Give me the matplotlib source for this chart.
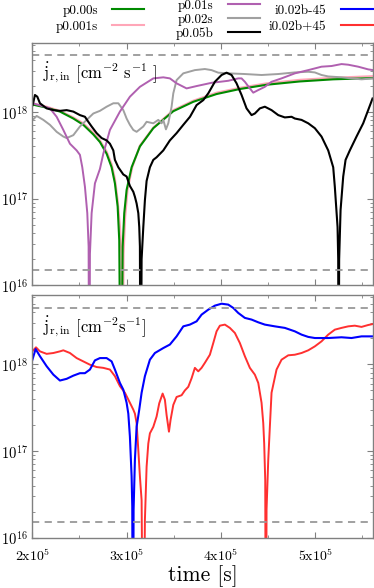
import matplotlib
matplotlib.use("Agg")
import numpy as np
import matplotlib.pyplot as plt
from matplotlib.lines import Line2D
from matplotlib.ticker import FixedLocator, LogLocator, NullFormatter

plt.rcParams['font.family'] = ['cmr10', 'DejaVu Serif']
plt.rcParams['mathtext.fontset'] = 'cm'
plt.rcParams['axes.formatter.use_mathtext'] = True
plt.rcParams['axes.unicode_minus'] = False

# time in units of 1e5 s, flux in units of 1e18 cm^-2 s^-1 (1e-4 = line drops off the axis)
t_green = [2.000, 2.152, 2.293, 2.435, 2.541, 2.647, 2.717, 2.788, 2.841, 2.876, 2.905, 2.922, 2.940,
           2.958, 2.975, 3.000, 3.053, 3.141, 3.283, 3.495, 3.707, 3.954, 4.201, 4.484, 4.837, 5.191, 5.608]
j_green = [1.22, 1.12, 1.01, 0.84, 0.71, 0.55, 0.45, 0.33, 0.23, 0.15, 0.081, 0.033, 1e-4,
           0.028, 0.068, 0.126, 0.23, 0.40, 0.65, 1.02, 1.31, 1.61, 1.84, 2.06, 2.25, 2.38, 2.46]

t_pink = [2.000, 2.152, 2.293, 2.435, 2.541, 2.647, 2.717, 2.788, 2.841, 2.876, 2.905, 2.930, 2.945, 2.955,
          2.968, 2.985, 3.010, 3.060, 3.141, 3.283, 3.495, 3.707, 3.954, 4.201, 4.484, 4.837, 5.191, 5.608]
j_pink = [1.26, 1.15, 1.03, 0.865, 0.74, 0.58, 0.47, 0.35, 0.25, 0.17, 0.096, 0.047, 0.023, 1e-4,
          0.023, 0.062, 0.126, 0.23, 0.41, 0.66, 1.05, 1.35, 1.67, 1.90, 2.14, 2.35, 2.48, 2.59]

t_purple = [2.004, 2.187, 2.258, 2.329, 2.399, 2.470, 2.505, 2.530, 2.558, 2.583, 2.597, 2.604, 2.611,
            2.629, 2.664, 2.717, 2.753, 2.823, 2.929, 3.035, 3.141, 3.283, 3.389, 3.459, 3.530, 3.636,
            3.742, 3.901, 4.078, 4.184, 4.219, 4.254, 4.307, 4.343, 4.396, 4.466, 4.537, 4.643, 4.784,
            4.926, 5.067, 5.173, 5.279, 5.350, 5.456, 5.562, 5.615]
j_purple = [1.26, 1.10, 0.88, 0.62, 0.43, 0.36, 0.32, 0.23, 0.137, 0.068, 0.028, 1e-4, 0.023,
            0.068, 0.15, 0.22, 0.33, 0.62, 1.01, 1.50, 1.95, 2.44, 2.51, 2.44, 2.14, 1.87,
            1.99, 2.17, 2.29, 2.44, 2.44, 2.23, 1.87, 1.67, 1.79, 1.95, 2.23, 2.44, 2.79,
            3.04, 3.33, 3.39, 3.57, 3.51, 3.33, 3.10, 3.04]

t_gray = [2.004, 2.046, 2.117, 2.187, 2.258, 2.329, 2.364, 2.435, 2.505, 2.576, 2.647, 2.717, 2.788,
          2.859, 2.912, 2.965, 3.000, 3.035, 3.071, 3.106, 3.177, 3.212, 3.283, 3.336, 3.371, 3.389,
          3.417, 3.442, 3.477, 3.495, 3.530, 3.601, 3.724, 3.830, 3.901, 3.972, 4.078, 4.254, 4.431,
          4.608, 4.784, 4.926, 4.996, 5.067, 5.138, 5.279, 5.385, 5.491, 5.615]
j_gray = [0.81, 0.90, 0.81, 0.71, 0.59, 0.52, 0.50, 0.54, 0.68, 0.81, 0.96, 1.03, 1.15,
          1.26, 1.26, 1.05, 0.84, 0.71, 0.62, 0.59, 0.68, 0.77, 0.74, 0.81, 0.74, 0.81,
          0.63, 0.74, 1.15, 1.64, 2.33, 2.79, 3.04, 3.13, 3.04, 2.84, 2.79, 2.74, 2.67,
          2.74, 2.86, 2.91, 2.86, 2.67, 2.57, 2.51, 2.44, 2.38, 2.44]

t_black = [2.004, 2.028, 2.053, 2.081, 2.152, 2.223, 2.293, 2.364, 2.435, 2.505, 2.558, 2.594, 2.629,
           2.682, 2.735, 2.788, 2.823, 2.859, 2.876, 2.912, 2.965, 3.000, 3.035, 3.071, 3.088, 3.106,
           3.124, 3.134, 3.141, 3.148, 3.159, 3.177, 3.194, 3.212, 3.247, 3.283, 3.318, 3.389, 3.459,
           3.530, 3.601, 3.672, 3.742, 3.813, 3.866, 3.936, 4.007, 4.060, 4.113, 4.166, 4.219, 4.272,
           4.325, 4.360, 4.413, 4.466, 4.537, 4.608, 4.678, 4.749, 4.784, 4.855, 4.926, 4.996, 5.067,
           5.138, 5.191, 5.208, 5.237, 5.244, 5.247, 5.254, 5.269, 5.297, 5.322, 5.367, 5.438, 5.509, 5.608]
j_black = [1.20, 1.57, 1.50, 1.26, 1.10, 1.05, 1.03, 1.05, 1.01, 0.92, 0.88, 0.77, 0.68,
           0.57, 0.50, 0.47, 0.43, 0.36, 0.28, 0.23, 0.19, 0.18, 0.14, 0.12, 0.105, 0.088,
           0.068, 0.047, 0.028, 1e-4, 0.020, 0.047, 0.096, 0.16, 0.23, 0.28, 0.30, 0.36, 0.47,
           0.57, 0.71, 0.88, 1.20, 1.37, 1.64, 2.23, 2.67, 2.84, 2.67, 2.14, 1.57, 1.10,
           0.92, 0.96, 1.10, 1.15, 1.05, 0.92, 0.865, 0.88, 0.84, 0.81, 0.74, 0.65, 0.52,
           0.36, 0.23, 0.137, 0.047, 0.020, 1e-4, 0.020, 0.074, 0.18, 0.28, 0.36, 0.52, 0.74, 1.43]

t_blue = [2.000, 2.035, 2.081, 2.152, 2.223, 2.293, 2.364, 2.435, 2.505, 2.558, 2.611, 2.664, 2.717,
          2.788, 2.841, 2.876, 2.929, 2.965, 3.000, 3.018, 3.035, 3.053, 3.060, 3.067, 3.074, 3.088,
          3.106, 3.134, 3.159, 3.194, 3.247, 3.300, 3.389, 3.459, 3.530, 3.601, 3.671, 3.742, 3.795,
          3.866, 3.936, 4.007, 4.078, 4.131, 4.184, 4.254, 4.325, 4.396, 4.466, 4.572, 4.678, 4.784,
          4.855, 4.926, 4.996, 5.138, 5.279, 5.385, 5.491, 5.615]
j_blue = [1.12, 1.5, 1.24, 0.95, 0.76, 0.65, 0.68, 0.74, 0.79, 0.79, 0.87, 1.11, 1.18,
          1.18, 1.08, 0.87, 0.61, 0.51, 0.36, 0.27, 0.146, 0.051, 0.023, 1e-4, 0.021, 0.079,
          0.19, 0.30, 0.47, 0.73, 1.13, 1.35, 1.54, 1.69, 2.1, 2.74, 2.87, 3.13, 3.74,
          4.27, 4.75, 5.0, 4.88, 4.47, 3.91, 3.43, 3.28, 3.05, 2.87, 2.74, 2.63, 2.4,
          2.2, 2.07, 2.01, 2.01, 2.05, 2.01, 2.1, 2.1]

t_red = [2.000, 2.039, 2.081, 2.152, 2.223, 2.293, 2.329, 2.399, 2.470, 2.541, 2.611, 2.682, 2.753,
         2.823, 2.876, 2.929, 2.982, 3.035, 3.071, 3.088, 3.106, 3.124, 3.141, 3.159, 3.177, 3.194,
         3.212, 3.230, 3.247, 3.283, 3.318, 3.346, 3.382, 3.406, 3.424, 3.449, 3.466, 3.495, 3.530,
         3.583, 3.618, 3.654, 3.689, 3.724, 3.760, 3.795, 3.830, 3.883, 3.919, 3.954, 3.989, 4.042,
         4.095, 4.148, 4.201, 4.254, 4.307, 4.360, 4.396, 4.431, 4.449, 4.459, 4.470, 4.477, 4.484,
         4.502, 4.519, 4.537, 4.590, 4.643, 4.714, 4.784, 4.855, 4.926, 4.996, 5.067, 5.138, 5.208,
         5.279, 5.350, 5.420, 5.491, 5.562, 5.615]
j_red = [1.41, 1.57, 1.41, 1.32, 1.35, 1.41, 1.45, 1.35, 1.18, 1.08, 0.99, 0.93, 0.91,
         0.87, 0.73, 0.56, 0.47, 0.36, 0.30, 0.27, 0.21, 0.103, 0.051, 0.027, 1e-4, 0.016,
         0.066, 0.122, 0.16, 0.19, 0.25, 0.355, 0.46, 0.39, 0.26, 0.167, 0.228, 0.34, 0.42,
         0.44, 0.50, 0.55, 0.69, 0.91, 0.83, 0.91, 1.04, 1.29, 1.76, 2.4, 2.79, 2.87,
         2.63, 2.3, 1.76, 1.24, 0.91, 0.76, 0.61, 0.36, 0.21, 0.122, 0.046, 1e-4, 0.021,
         0.079, 0.19, 0.47, 0.87, 1.13, 1.27, 1.29, 1.35, 1.45, 1.61, 1.84, 2.2, 2.51,
         2.63, 2.74, 2.79, 2.7, 2.84, 2.92]

ref_high = 4.5e18
ref_low = 1.5e16

xticks = [2e5, 3e5, 4e5, 5e5]
xticklabels = ['2x10$^5$', '3x10$^5$', '4x10$^5$', '5x10$^5$']
yticks = [1e16, 1e17, 1e18]
yticklabels = ['10$^{16}$', '10$^{17}$', '10$^{18}$']

top_series = [
    ('p0.00s', t_green, j_green, '#008a00', 1.5),
    ('p0.001s', t_pink, j_pink, '#ffa6b8', 1.5),
    ('p0.01s', t_purple, j_purple, '#b060b0', 1.4),
    ('p0.02s', t_gray, j_gray, '#a0a0a0', 1.4),
    ('p0.05b', t_black, j_black, '#000000', 1.5),
]
bottom_series = [
    ('i0.02b-45', t_blue, j_blue, '#0000ff', 1.5),
    ('i0.02b+45', t_red, j_red, '#ff3030', 1.4),
]

fig = plt.figure(figsize=(3.74, 5.88), dpi=100)
ax1 = fig.add_axes([0.0864, 0.5148, 0.9102, 0.4126])
ax2 = fig.add_axes([0.0864, 0.0855, 0.9102, 0.4128])

draw_order = {ax1: ['p0.001s', 'p0.00s', 'p0.02s', 'p0.01s', 'p0.05b'],
              ax2: ['i0.02b+45', 'i0.02b-45']}
handles = {}
for ax, series in [(ax1, top_series), (ax2, bottom_series)]:
    lookup = {s[0]: s for s in series}
    for name in draw_order[ax]:
        _, t, j, c, lw = lookup[name]
        ln, = ax.plot(np.array(t) * 1e5, np.array(j) * 1e18, color=c, lw=lw, solid_joinstyle='round')
        handles[name] = ln

    ax.axhline(ref_high, color='#999999', lw=1.3, ls=(0, (4, 3)))
    ax.axhline(ref_low, color='#999999', lw=1.3, ls=(0, (4, 3)))
    ax.set_yscale('log')
    ax.set_ylim(1e16, 6.3e18)
    ax.set_xlim(2e5, 5.61e5)
    ax.yaxis.set_major_locator(FixedLocator(yticks))
    ax.set_yticklabels(yticklabels, fontsize=10.5)
    ax.yaxis.set_minor_locator(LogLocator(base=10, subs=np.arange(2, 10)))
    ax.yaxis.set_minor_formatter(NullFormatter())
    ax.set_xticks(xticks)
    ax.set_xticks([2.5e5, 3.5e5, 4.5e5, 5.5e5], minor=True)
    ax.tick_params(which='both', direction='in', top=True, right=True, color='#808080')
    ax.tick_params(which='major', length=4, width=0.8)
    ax.tick_params(which='minor', length=2.5, width=0.6)
    ax.tick_params(axis='y', pad=3)
    for sp in ax.spines.values():
        sp.set_color('#808080')
        sp.set_linewidth(1.0)

ax1.set_xticklabels([])
ax2.set_xticklabels(xticklabels, fontsize=10)
ax2.tick_params(axis='x', pad=7)
ax2.set_xlabel('time [s]', fontsize=15.5, labelpad=1)

ax1.text(0.03, 0.875, r'$\dot{\mathrm{j}}_{\mathrm{r,in}}$ [cm$^{\mathrm{-2}}$ s$^{\mathrm{-1}}$ ]',
         transform=ax1.transAxes, fontsize=12, va='center', ha='left')
ax2.text(0.03, 0.87, r'$\dot{\mathrm{j}}_{\mathrm{r,in}}$ [cm$^{\mathrm{-2}}$s$^{\mathrm{-1}}$]',
         transform=ax2.transAxes, fontsize=12, va='center', ha='left')

legend_groups = [
    (['p0.00s', 'p0.001s'], 0.267, 0.968, 0.3),
    (['p0.01s', 'p0.02s', 'p0.05b'], 0.582, 0.9665, 0.12),
    (['i0.02b-45', 'i0.02b+45'], 0.858, 0.968, 0.3),
]
for names, xc, yc, spacing in legend_groups:
    hs = [Line2D([], [], color=handles[n].get_color(), lw=1.5) for n in names]
    fig.legend(hs, names, loc='center', bbox_to_anchor=(xc, yc), frameon=False,
               markerfirst=False, fontsize=9.5, handlelength=2.4, handletextpad=1.1,
               labelspacing=spacing, borderpad=0, borderaxespad=0)

fig.savefig('out.png', dpi=100)
